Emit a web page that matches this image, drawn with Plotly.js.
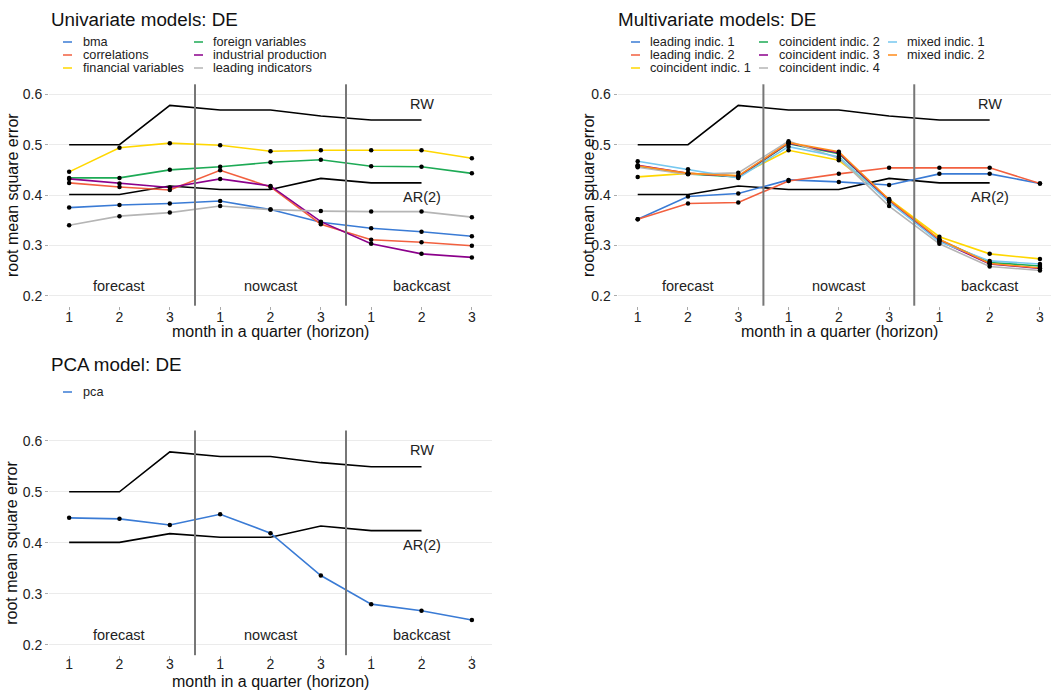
<!DOCTYPE html>
<html><head><meta charset="utf-8">
<script src="https://cdn.plot.ly/plotly-3.0.1.min.js"></script>
<style>html,body{margin:0;padding:0;background:#fff}</style>
</head><body><div id="chart" style="width:1051px;height:693px"></div>
<script>
// ---------- data ----------
const horizon = [1, 2, 3, 4, 5, 6, 7, 8, 9];
const tickText = ['1', '2', '3', '1', '2', '3', '1', '2', '3'];
const yTicks = [0.2, 0.3, 0.4, 0.5, 0.6];
const benchHorizon = [1, 2, 3, 4, 5, 6, 7, 8];
const rwValues = [0.500, 0.500, 0.578, 0.569, 0.569, 0.557, 0.549, 0.549];
const arValues = [0.401, 0.401, 0.418, 0.411, 0.411, 0.433, 0.424, 0.424];
const periodBreaks = [3.5, 6.5];
const periodNames = ['forecast', 'nowcast', 'backcast'];
const periodCenters = [2, 5, 8];

// univariate
const uniNames = ['bma', 'correlations', 'financial variables', 'foreign variables', 'industrial production', 'leading indicators'];
const uniColors = ['#3A7BD5', '#F2603F', '#FFD700', '#1DAA55', '#8B008B', '#B5B5B5'];
const bma = [0.375, 0.380, 0.383, 0.388, 0.371, 0.346, 0.334, 0.327, 0.318];
const correlations = [0.424, 0.416, 0.410, 0.449, 0.416, 0.342, 0.311, 0.306, 0.299];
const financialVariables = [0.446, 0.494, 0.503, 0.499, 0.487, 0.489, 0.489, 0.489, 0.473];
const foreignVariables = [0.434, 0.434, 0.450, 0.456, 0.465, 0.470, 0.457, 0.456, 0.443];
const industrialProduction = [0.432, 0.423, 0.415, 0.432, 0.418, 0.347, 0.303, 0.283, 0.276];
const leadingIndicators = [0.340, 0.358, 0.365, 0.378, 0.371, 0.368, 0.367, 0.367, 0.356];
const uniSeries = [bma, correlations, financialVariables, foreignVariables, industrialProduction, leadingIndicators];

// multivariate
const multiNames = ['leading indic. 1', 'leading indic. 2', 'coincident indic. 1', 'coincident indic. 2', 'coincident indic. 3', 'coincident indic. 4', 'mixed indic. 1', 'mixed indic. 2'];
const multiColors = ['#3A7BD5', '#F2603F', '#FFD700', '#1DAA55', '#8B008B', '#B5B5B5', '#76C8F0', '#FF8C1A'];
const leadingIndic1 = [0.352, 0.397, 0.403, 0.430, 0.426, 0.420, 0.442, 0.442, 0.423];
const leadingIndic2 = [0.352, 0.383, 0.385, 0.428, 0.442, 0.454, 0.454, 0.454, 0.423];
const coincidentIndic1 = [0.436, 0.443, 0.438, 0.489, 0.469, 0.392, 0.317, 0.283, 0.273];
const coincidentIndic2 = [0.457, 0.442, 0.436, 0.502, 0.482, 0.389, 0.311, 0.266, 0.259];
const coincidentIndic3 = [0.459, 0.443, 0.437, 0.503, 0.484, 0.389, 0.309, 0.263, 0.254];
const coincidentIndic4 = [0.455, 0.441, 0.444, 0.507, 0.473, 0.378, 0.303, 0.258, 0.250];
const mixedIndic1 = [0.467, 0.451, 0.434, 0.496, 0.476, 0.386, 0.307, 0.269, 0.263];
const mixedIndic2 = [0.458, 0.443, 0.438, 0.504, 0.486, 0.391, 0.312, 0.264, 0.255];
const multiSeries = [leadingIndic1, leadingIndic2, coincidentIndic1, coincidentIndic2, coincidentIndic3, coincidentIndic4, mixedIndic1, mixedIndic2];

// pca
const pcaNames = ['pca'];
const pcaColors = ['#3A7BD5'];
const pca = [0.449, 0.447, 0.435, 0.456, 0.419, 0.336, 0.280, 0.267, 0.249];
const pcaSeries = [pca];

const panelTitles = ['Univariate models: DE', 'Multivariate models: DE', 'PCA model: DE'];
const xTitle = 'month in a quarter (horizon)';
const yTitle = 'root mean square error';

// ---------- layout helpers ----------
const W = 1051, H = 693;
const fx = p => p / W;
const fy = p => 1 - p / H;
const FONT = '"Liberation Sans", Arial, Helvetica, sans-serif';

const traces = [];
const annotations = [];
const shapes = [];
const layout = {
  width: W, height: H, margin: {l: 0, r: 0, t: 0, b: 0},
  paper_bgcolor: '#fff', plot_bgcolor: '#fff', showlegend: false,
  font: {family: FONT, color: '#222'}
};

const panels = [
  {ax: '', names: uniNames, colors: uniColors, series: uniSeries,
   xd: [49, 492], yd: [84.3, 305.7], xr: [0.6, 9.4], tls: -5,
   title: [49, 19], ytitleX: 12, xtitleY: 331,
   legCols: [[63, 81], [194, 211]], legRows: [42, 55, 68]},
  {ax: '2', names: multiNames, colors: multiColors, series: multiSeries,
   xd: [617.6, 1051], yd: [84.3, 305.7], xr: [0.6, 9.22], tls: -5,
   title: [616, 19], ytitleX: 588, xtitleY: 331, xtitleX: 839,
   legCols: [[631, 648], [759, 777], [888, 905]], legRows: [42, 55, 68]},
  {ax: '3', names: pcaNames, colors: pcaColors, series: pcaSeries,
   xd: [49, 492], yd: [430.5, 655.2], xr: [0.6, 9.4], tls: -7,
   title: [49, 364], ytitleX: 12, xtitleY: 681,
   legCols: [[63, 81]], legRows: [392]}
];

panels.forEach((p, i) => {
  const xa = 'x' + p.ax, ya = 'y' + p.ax;
  layout['xaxis' + p.ax] = {
    domain: [fx(p.xd[0]), fx(p.xd[1])], range: p.xr, anchor: ya,
    tickmode: 'array', tickvals: horizon, ticktext: tickText,
    showgrid: false, zeroline: false, showline: false,
    ticks: 'outside', ticklen: 3, tickcolor: '#aaa', tickwidth: 1, ticklabelstandoff: p.tls,
    tickfont: {size: 14, color: '#222', family: FONT}, fixedrange: true
  };
  layout['yaxis' + p.ax] = {
    domain: [fy(p.yd[1]), fy(p.yd[0])], range: [0.18, 0.62], anchor: xa,
    tickmode: 'array', tickvals: yTicks, tickformat: '.1f',
    showgrid: true, gridcolor: '#EBEBEB', gridwidth: 1,
    zeroline: false, showline: false,
    ticks: 'outside', ticklen: 3, tickcolor: '#aaa', tickwidth: 1,
    tickfont: {size: 14, color: '#222', family: FONT}, fixedrange: true
  };
  // benchmarks
  traces.push({x: benchHorizon, y: rwValues, xaxis: xa, yaxis: ya, mode: 'lines',
    line: {color: '#000', width: 1.6}, hoverinfo: 'skip'});
  traces.push({x: benchHorizon, y: arValues, xaxis: xa, yaxis: ya, mode: 'lines',
    line: {color: '#000', width: 1.6}, hoverinfo: 'skip'});
  // model lines
  p.series.forEach((s, k) => {
    traces.push({x: horizon, y: s, xaxis: xa, yaxis: ya, mode: 'lines', name: p.names[k],
      line: {color: p.colors[k], width: 1.6}, hoverinfo: 'skip'});
  });
  p.series.forEach((s, k) => {
    traces.push({x: horizon, y: s, xaxis: xa, yaxis: ya, mode: 'markers',
      marker: {color: '#000', size: 4.5}, hoverinfo: 'skip'});
  });
  // period separators
  periodBreaks.forEach(b => shapes.push({type: 'line', xref: xa, yref: ya + ' domain',
    x0: b, x1: b, y0: 0, y1: 1, line: {color: '#777', width: 2}}));
  // period labels
  periodNames.forEach((n, k) => annotations.push({xref: xa, yref: ya, x: periodCenters[k], y: 0.219,
    text: n, showarrow: false, font: {size: 14.5, color: '#222', family: FONT}}));
  annotations.push({xref: xa, yref: ya, x: 8, y: 0.581, text: 'RW', showarrow: false,
    font: {size: 14.5, color: '#222', family: FONT}});
  annotations.push({xref: xa, yref: ya, x: 8, y: 0.3955, text: 'AR(2)', showarrow: false,
    font: {size: 14.5, color: '#222', family: FONT}});
  // titles
  annotations.push({xref: 'paper', yref: 'paper', x: fx(p.title[0]), y: fy(p.title[1]),
    xanchor: 'left', yanchor: 'middle', text: panelTitles[i], showarrow: false,
    font: {size: 18.8, color: '#111', family: FONT}});
  annotations.push({xref: 'paper', yref: 'paper', x: fx(p.ytitleX), y: fy((p.yd[0] + p.yd[1]) / 2),
    xanchor: 'center', yanchor: 'middle', textangle: -90, text: yTitle, showarrow: false,
    font: {size: 16, color: '#111', family: FONT}});
  annotations.push({xref: 'paper', yref: 'paper',
    x: fx(p.xtitleX || (p.xd[0] + p.xd[1]) / 2), y: fy(p.xtitleY),
    xanchor: 'center', yanchor: 'middle', text: xTitle, showarrow: false,
    font: {size: 16, color: '#111', family: FONT}});
  // legend (column-major)
  const rows = p.legRows.length;
  p.names.forEach((n, k) => {
    const c = Math.floor(k / rows), r = k % rows;
    const [sx, tx] = p.legCols[c];
    const yy = p.legRows[r];
    shapes.push({type: 'line', xref: 'paper', yref: 'paper', x0: fx(sx), x1: fx(sx + 9),
      y0: fy(yy), y1: fy(yy), line: {color: p.colors[k], width: 2}, opacity: 0.75});
    annotations.push({xref: 'paper', yref: 'paper', x: fx(tx), y: fy(yy), xanchor: 'left',
      yanchor: 'middle', text: n, showarrow: false, font: {size: 12.7, color: '#222', family: FONT}});
  });
});

layout.annotations = annotations;
layout.shapes = shapes;
Plotly.newPlot('chart', traces, layout, {displayModeBar: false, staticPlot: true});
</script>
</body></html>
